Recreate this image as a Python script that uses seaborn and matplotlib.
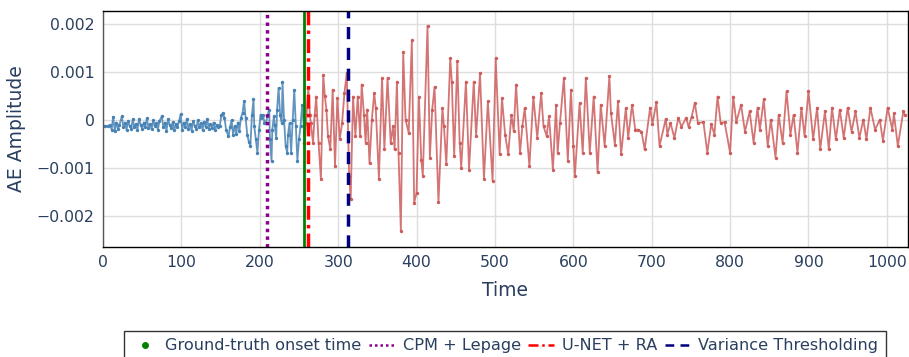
import numpy as np
import pandas as pd
import matplotlib
matplotlib.use("Agg")
import matplotlib.pyplot as plt
import seaborn as sns
from matplotlib.lines import Line2D

# ── Data (amplitudes in units of 1e-3) ────────────────────────────────────────

t_pre = [0, 3, 6, 9, 11, 13, 15, 17, 19, 21, 24, 26, 28, 30, 32, 34, 36, 38,
         40, 42, 44, 46, 48, 50, 52, 54, 56, 58, 60, 62, 64, 66, 68, 70, 72,
         75, 77, 79, 81, 83, 85, 87, 89, 91, 93, 95, 97, 99, 101, 103, 105,
         107, 109, 111, 113, 115, 117, 119, 121, 123, 125, 127, 129, 131, 133,
         135, 137, 139, 141, 143, 145, 147, 149, 151, 153, 155, 157, 160, 162,
         164, 166, 168, 170, 172, 174, 176, 178, 180, 182, 184, 186, 188, 190,
         192, 193, 195, 197, 199, 201, 202, 204, 206, 208, 210, 212, 213, 215,
         216, 218, 219, 221, 222, 224, 226, 228, 229, 231, 233, 235, 236, 238,
         240, 242, 244, 246, 248, 250, 252, 254, 256, 257]
amp_pre = [-0.12, -0.12, -0.13, -0.10, -0.20, 0.07, -0.22, -0.05, -0.18, -0.10,
           0.08, -0.15, -0.05, -0.20, -0.02, -0.12, -0.18, 0.02, -0.15, -0.08,
           -0.20, 0.03, -0.10, -0.18, -0.05, -0.14, 0.04, -0.16, -0.08, -0.19,
           0.00, -0.12, -0.06, -0.20, -0.02, 0.08, -0.15, -0.05, -0.22, 0.02,
           -0.10, -0.17, -0.04, -0.20, -0.08, -0.14, -0.02, 0.12, -0.20, -0.05,
           -0.15, 0.03, -0.18, -0.08, -0.22, -0.02, -0.12, -0.18, 0.00, -0.15,
           -0.06, -0.20, -0.03, -0.14, 0.02, -0.18, -0.08, -0.16, -0.05, -0.20,
           -0.10, -0.15, -0.12, 0.10, 0.15, 0.05, -0.20, -0.34, -0.15, 0.00,
           -0.30, -0.12, -0.28, -0.05, -0.22, 0.05, 0.15, 0.39, 0.05, -0.30,
           -0.45, -0.54, 0.10, 0.43, -0.13, -0.40, -0.68, -0.20, 0.11, 0.05,
           0.11, -0.05, -0.05, 0.10, 0.22, -0.40, -0.85, -0.20, 0.08, -0.10,
           -0.37, 0.20, 0.67, 0.10, -0.05, 0.80, 0.00, -0.54, -0.68, -0.30,
           -0.06, -0.68, 0.00, 0.63, -0.13, -0.85, -0.40, -0.13, 0.32, -0.10,
           -0.47]

t_post = [257, 259, 262, 264, 265, 268, 270, 272, 275, 278, 281, 283, 285, 287,
          290, 293, 296, 299, 302, 305, 308, 311, 314, 316, 319, 322, 325, 328,
          330, 333, 335, 337, 340, 343, 346, 348, 352, 356, 359, 363, 367, 370,
          372, 375, 377, 380, 383, 386, 390, 394, 397, 400, 403, 406, 408, 414,
          417, 420, 423, 428, 433, 435, 438, 443, 445, 448, 452, 455, 457, 463,
          467, 473, 476, 481, 486, 491, 497, 501, 506, 509, 513, 517, 521, 524,
          527, 532, 535, 538, 544, 549, 554, 559, 562, 566, 569, 574, 578, 580,
          583, 588, 593, 597, 600, 602, 608, 612, 616, 621, 626, 631, 635, 640,
          646, 648, 653, 657, 661, 667, 670, 675, 679, 683, 687, 691, 698, 701,
          706, 710, 718, 720, 724, 729, 734, 738, 744, 747, 751, 755, 759, 766,
          771, 776, 780, 784, 788, 793, 800, 804, 808, 814, 819, 825, 830, 835,
          838, 843, 848, 852, 858, 862, 867, 872, 877, 881, 886, 891, 895, 900,
          906, 911, 915, 921, 926, 930, 935, 940, 945, 950, 955, 960, 965, 970,
          974, 979, 985, 991, 995, 1001, 1007, 1009, 1014, 1021, 1023]
amp_post = [-0.47, -0.06, 0.67, 0.10, -0.06, -0.47, 0.10, 0.49, -0.47, -1.23,
            0.94, 0.50, 0.22, -0.33, -0.61, 0.63, -0.96, 0.46, -0.40, -0.06,
            0.56, 0.98, -1.16, -1.65, 0.49, -0.33, 0.49, -0.33, 0.74, 0.10,
            -0.47, 0.22, -0.90, 0.01, 0.56, 0.25, -1.23, 0.88, -0.61, 0.88,
            -0.47, -0.13, -0.61, 0.80, -0.68, -2.31, 1.41, 0.01, -0.27, 1.66,
            -1.72, -1.51, 0.49, -0.82, -1.16, 1.96, -0.78, 0.22, 0.69, -1.71,
            0.25, -0.13, -0.92, 1.29, 0.80, -0.75, 1.22, -0.47, -0.99, 0.80,
            -1.03, 0.80, -0.33, 0.98, -1.23, 0.39, -1.26, 1.29, -0.71, 0.46,
            -0.30, -0.71, 0.11, -0.23, 0.74, -0.68, -0.13, 0.25, -0.96, 0.49,
            -0.37, 0.56, -0.13, -0.33, 0.08, -1.03, 0.32, -0.68, -0.06, 0.88,
            -0.85, 0.63, -0.54, -1.16, 0.35, -0.68, 0.88, -0.68, 0.49, -1.09,
            0.32, -0.54, 0.91, 0.15, -0.51, 0.39, -0.71, 0.25, -0.37, 0.32,
            -0.20, -0.20, -0.24, -0.61, 0.26, -0.08, 0.37, -0.54, 0.03, -0.30,
            -0.06, -0.37, 0.05, -0.14, 0.05, -0.14, 0.07, 0.36, -0.06, -0.04,
            -0.68, -0.08, -0.30, 0.49, -0.06, -0.04, -0.68, 0.49, -0.04, 0.32,
            -0.24, 0.18, -0.47, 0.26, -0.20, 0.43, -0.54, 0.01, -0.78, 0.11,
            -0.47, 0.60, -0.30, 0.11, -0.68, 0.26, -0.33, 0.60, -0.40, 0.26,
            -0.61, 0.18, -0.61, 0.26, -0.40, 0.22, -0.37, 0.26, -0.24, 0.18,
            -0.37, 0.01, -0.40, 0.26, -0.20, 0.01, -0.43, 0.26, -0.20, 0.14,
            -0.54, 0.18, 0.11]

onset_labels = ["Ground-truth onset time", "CPM + Lepage", "U-NET + RA",
                "Variance Thresholding"]
onset_times = [257, 209, 262, 313]

# ── Plot ──────────────────────────────────────────────────────────────────────

TXT = "#2a3f5f"
sns.set_style("white")
plt.rcParams["font.family"] = ["DejaVu Sans"]

pre = pd.DataFrame({"t": t_pre, "amp": np.array(amp_pre) * 1e-3})
post = pd.DataFrame({"t": t_post, "amp": np.array(amp_post) * 1e-3})

fig = plt.figure(figsize=(9.09, 3.57), dpi=100)
ax = fig.add_axes([103 / 909, 1 - 247 / 357, 805 / 909, 236 / 357])

for df, col in [(pre, "#4682b4"), (post, "#cd5c5c")]:
    sns.lineplot(data=df, x="t", y="amp", color=col, lw=1.3, alpha=0.85, ax=ax)
    sns.scatterplot(data=df, x="t", y="amp", color=col, s=6, linewidth=0, ax=ax)

styles = [dict(color="green", ls="-", lw=2),
          dict(color="#8b008b", ls=(0, (1, 1.2)), lw=2.5),
          dict(color="red", ls=(0, (4, 1.5, 1, 1.5)), lw=2.5),
          dict(color="navy", ls=(0, (3.5, 2.5)), lw=2.5)]
for tt, st in zip(onset_times, styles):
    ax.axvline(tt, **st)

ax.set_xlim(0, 1027)
ax.set_ylim(-0.00264, 0.00227)
ax.set_xticks(range(0, 1001, 100))
ax.set_yticks([-0.002, -0.001, 0, 0.001, 0.002])
ax.set_yticklabels(["\u22120.002", "\u22120.001", "0", "0.001", "0.002"])
ax.grid(True, color="#dedede", lw=1)
ax.set_axisbelow(True)
ax.tick_params(length=0, labelsize=11.3, colors=TXT, pad=6)
for sp in ax.spines.values():
    sp.set_color("black")
    sp.set_linewidth(1)
ax.spines["left"].set_color("#555555")
ax.set_xlabel("Time", fontsize=13.5, color=TXT, labelpad=8)
ax.set_ylabel("AE Amplitude", fontsize=13.5, color=TXT, labelpad=8)

handles = [Line2D([], [], color="green", ls="none", marker="o", markersize=4),
           Line2D([], [], **styles[1]),
           Line2D([], [], **styles[2]),
           Line2D([], [], **styles[3])]
for h in handles[1:]:
    h.set_linewidth(1.8)
leg = fig.legend(handles, onset_labels, loc="upper center", ncol=4,
                 bbox_to_anchor=(505 / 909, 1 - 323 / 357), fontsize=11.6,
                 frameon=True, fancybox=False, edgecolor="black",
                 handlelength=1.6, handletextpad=0.5, columnspacing=0.45,
                 borderpad=0.45, labelcolor=TXT)
leg.get_frame().set_linewidth(1)

fig.savefig("out.png", dpi=100)
